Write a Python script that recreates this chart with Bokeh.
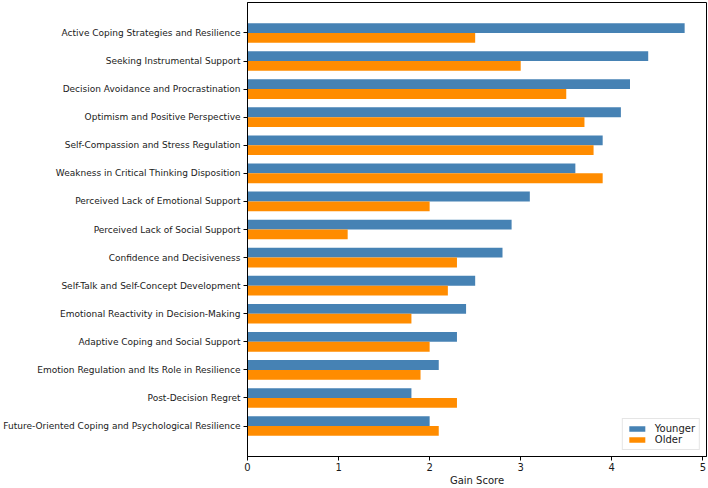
from bokeh.plotting import figure
from bokeh.models import ColumnDataSource, Range1d, FixedTicker, Legend, LegendItem
from bokeh.transform import dodge
from bokeh.embed import file_html
from bokeh.resources import INLINE

# Coping / decision-making themes, listed top to bottom
categories = [
    "Active Coping Strategies and Resilience",
    "Seeking Instrumental Support",
    "Decision Avoidance and Procrastination",
    "Optimism and Positive Perspective",
    "Self-Compassion and Stress Regulation",
    "Weakness in Critical Thinking Disposition",
    "Perceived Lack of Emotional Support",
    "Perceived Lack of Social Support",
    "Confidence and Decisiveness",
    "Self-Talk and Self-Concept Development",
    "Emotional Reactivity in Decision-Making",
    "Adaptive Coping and Social Support",
    "Emotion Regulation and Its Role in Resilience",
    "Post-Decision Regret",
    "Future-Oriented Coping and Psychological Resilience",
]
younger = [4.8, 4.4, 4.2, 4.1, 3.9, 3.6, 3.1, 2.9, 2.8, 2.5, 2.4, 2.3, 2.1, 1.8, 2.0]
older = [2.5, 3.0, 3.5, 3.7, 3.8, 3.9, 2.0, 1.1, 2.3, 2.2, 1.8, 2.0, 1.9, 2.3, 2.1]
x_ticks = [0, 1, 2, 3, 4, 5]

FONT = "DejaVu Sans"
BAR_H = 0.35
n = len(categories)

source = ColumnDataSource(dict(
    idx=list(range(n)),
    younger=younger,
    older=older,
))

# y range: categories at 0..n-1 with a 5% margin, top row first
span = (n - 1) + 2 * BAR_H
pad = 0.05 * span

p = figure(
    width=708, height=488,
    x_range=Range1d(0, 5.04),
    y_range=Range1d(n - 1 + BAR_H + pad, -BAR_H - pad),
    output_backend="svg", toolbar_location=None,
    min_border_left=247, min_border_right=2,
    min_border_top=2, min_border_bottom=30,
)

r_young = p.hbar(y=dodge("idx", -BAR_H / 2, range=p.y_range), left=0, right="younger",
                 height=BAR_H, source=source, fill_color="#4682B4", line_color=None)
r_old = p.hbar(y=dodge("idx", BAR_H / 2, range=p.y_range), left=0, right="older",
               height=BAR_H, source=source, fill_color="#FF8C00", line_color=None)

p.xgrid.visible = False
p.ygrid.visible = False
p.outline_line_color = "black"
p.outline_line_width = 1
p.background_fill_color = "white"
p.border_fill_color = "white"

# y axis: category names
ya = p.yaxis[0]
ya.ticker = FixedTicker(ticks=list(range(n)))
ya.major_label_overrides = {i: c for i, c in enumerate(categories)}
ya.minor_tick_line_color = None
ya.major_tick_in = 0
ya.major_tick_out = 4
ya.major_label_standoff = 3
ya.major_label_text_font = FONT
ya.major_label_text_font_size = "9px"
ya.major_label_text_color = "#1a1a1a"
ya.axis_line_color = "black"

# x axis: gain score
xa = p.xaxis[0]
xa.ticker = FixedTicker(ticks=x_ticks)
xa.minor_tick_line_color = None
xa.major_tick_in = 0
xa.major_tick_out = 4
xa.major_label_standoff = 2
xa.major_label_text_font = FONT
xa.major_label_text_font_size = "10px"
xa.major_label_text_color = "#1a1a1a"
xa.axis_label = "Gain Score"
xa.axis_label_standoff = 1
xa.axis_label_text_font = FONT
xa.axis_label_text_font_size = "10px"
xa.axis_label_text_font_style = "normal"
xa.axis_label_text_color = "#1a1a1a"
xa.axis_line_color = "black"

legend = Legend(items=[
    LegendItem(label="Younger", renderers=[r_young]),
    LegendItem(label="Older", renderers=[r_old]),
], location="bottom_right")
legend.label_text_font = FONT
legend.label_text_font_size = "10px"
legend.label_text_color = "#1a1a1a"
legend.glyph_width = 20
legend.glyph_height = 7
legend.label_height = 10
legend.label_standoff = 8
legend.spacing = 0
legend.padding = 4
legend.margin = 6
legend.border_line_color = "#cccccc"
legend.border_line_width = 1
legend.background_fill_alpha = 0.8
p.add_layout(legend)

open("out.html", "w").write(file_html(p, INLINE))
